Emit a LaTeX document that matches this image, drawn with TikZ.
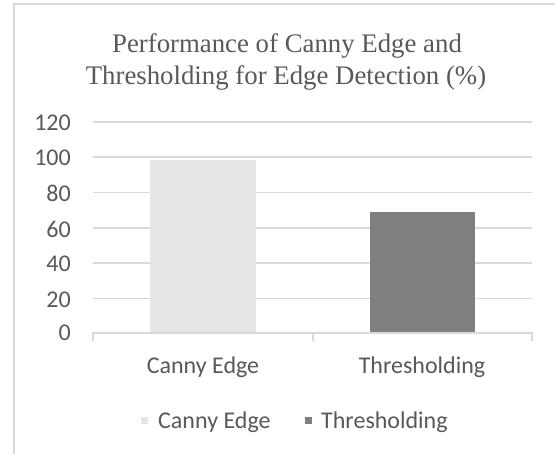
\documentclass[tikz,border=0pt]{standalone}
\usepackage{fontspec}
\setmainfont{Liberation Serif}
\newfontfamily\labelfont{Carlito}
\definecolor{txtgray}{HTML}{595959}
\definecolor{gridgray}{HTML}{D9D9D9}
\definecolor{framegray}{HTML}{D9D9D9}
\definecolor{barlight}{HTML}{E7E6E6}
\definecolor{bardark}{HTML}{7F7F7F}
\tikzset{
  gridline/.style={draw=gridgray, line width=1.5pt},
  axisline/.style={draw=gridgray, line width=1.5pt},
  ticklabel/.style={font=\labelfont\fontsize{24}{26}\selectfont, text=txtgray, anchor=east, inner sep=0pt},
  catlabel/.style={font=\labelfont\fontsize{24}{26}\selectfont, text=txtgray, inner sep=0pt, anchor=base},
  titletext/.style={font=\fontsize{26.8}{32}\selectfont, text=txtgray, inner sep=0pt, anchor=base},
  legendkey/.style={minimum size=7pt, inner sep=0pt},
}
\begin{document}
\begin{tikzpicture}[x=1pt, y=-1pt]
  \useasboundingbox (0,0) rectangle (555,454);
  \fill[white] (0,0) rectangle (555,454);
  % chart area frame (top and left edges)
  \draw[draw=framegray, line width=2pt] (555,4) -- (14,4) -- (14,454);
  % title
  \node[titletext] (title1) at (287,53) {Performance of Canny Edge and};
  \node[titletext] (title2) at (286,85) {Thresholding for Edge Detection (\%)};
  % gridlines and value labels
  \foreach \v/\yy in {120/122,100/157,80/192.5,60/228,40/263,20/298.5} {
    \draw[gridline] (93,\yy) -- (532,\yy);
    \node[ticklabel] (t\v) at (71,\yy+1) {\v};
  }
  \node[ticklabel] (t0) at (71,333) {0};
  % bars
  \fill[barlight] (150,160) rectangle (256,333);
  \fill[bardark] (370,212) rectangle (475,333);
  % category axis with ticks
  \draw[axisline] (93,341) -- (93,333) -- (532,333) -- (532,341);
  \draw[axisline] (313,333) -- (313,341);
  \node[catlabel] (c1) at (203,374) {Canny Edge};
  \node[catlabel] (c2) at (422,374) {Thresholding};
  % legend
  \node[legendkey, fill=barlight] (k1) at (144,421) {};
  \node[catlabel, anchor=base west] (l1) at (158,429) {Canny Edge};
  \node[legendkey, fill=bardark] (k2) at (308,421) {};
  \node[catlabel, anchor=base west] (l2) at (321,429) {Thresholding};
\end{tikzpicture}
\end{document}
